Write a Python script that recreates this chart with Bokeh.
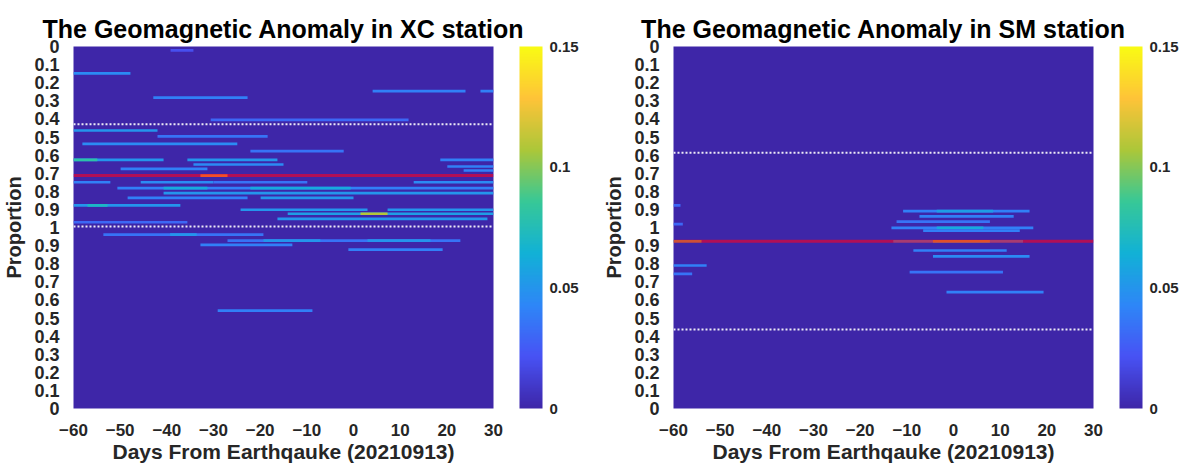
from bokeh.plotting import figure
from bokeh.models import (Range1d, FixedTicker, CustomJSTickFormatter, LinearColorMapper,
                          ColorBar, Span, ColumnDataSource, Title)
from bokeh.layouts import row
from bokeh.embed import file_html
from bokeh.resources import INLINE

# ---------------- data ----------------
day_ticks = [-60, -50, -40, -30, -20, -10, 0, 10, 20, 30]
# axis position (0 = top, 1 = middle, 2 = bottom); labels run 0..1..0
prop_ticks = [i / 10 for i in range(21)]
cbar_ticks = [0, 0.05, 0.1, 0.15]

xc_row = [0.022, 0.148, 0.247, 0.247, 0.283, 0.405, 0.464, 0.496, 0.538, 0.578,
          0.626, 0.626, 0.626, 0.626, 0.652, 0.663, 0.676, 0.685, 0.713,
          0.750, 0.750, 0.750, 0.750, 0.783, 0.783, 0.783, 0.810, 0.836, 0.836,
          0.878, 0.878, 0.902, 0.902, 0.924, 0.924, 0.952, 0.971,
          1.039, 1.039, 1.072, 1.072, 1.072, 1.096, 1.122, 1.459]
xc_start = [-39.2, -60, 4.1, 27.2, -42.9, -30.6, -60, -42, -58.1, -22.1,
            -60, -60, -35.6, 18.6, -34.3, 20.1, -49.9, 23.6, -32.8,
            -60, -45.6, -30, 12.9, -50.6, -40.7, -22.1, -40.7, -48.4, -19.9,
            -60, -57, -24.2, 7.3, -14.1, 1.5, -16.3, -60,
            -53.6, -39.3, -27, -19.3, 3, -32.8, -1.1, -29.1]
xc_end = [-34.3, -47.8, 24.0, 30, -22.7, 11.8, -42, -18.4, -24.9, -2.1,
          -40.7, -54.9, -16.3, 30, -15, 30, -31.3, 30, -27,
          -52.1, -30, -9.9, 30, 30, -31.3, -0.6, 30, -22.7, 0,
          -37.1, -52.7, 3, 30, 30, 7.3, 28.7, -35.6,
          -19.3, -33.6, 22.9, -7.1, 16.5, -13.1, 19.1, -8.8]
xc_value = [0.02, 0.045, 0.04, 0.04, 0.04, 0.03, 0.05, 0.035, 0.045, 0.035,
            0.05, 0.08, 0.05, 0.04, 0.045, 0.04, 0.04, 0.04, 0.12,
            0.04, 0.045, 0.035, 0.045, 0.04, 0.06, 0.06, 0.05, 0.04, 0.05,
            0.05, 0.07, 0.05, 0.05, 0.055, 0.11, 0.05, 0.03,
            0.035, 0.05, 0.035, 0.05, 0.05, 0.04, 0.04, 0.04]
xc_bounds = [0.43, 0.995]
xc_ref = 0.713

sm_row = [0.878, 0.910, 0.910, 0.938, 0.967, 0.981, 1.002, 1.002, 1.017,
          1.076, 1.076, 1.076, 1.127, 1.160, 1.210, 1.247, 1.256, 1.357]
sm_start = [-60, -10.8, -3.6, -7.3, -12.2, -60, -13.3, -3.6, -6.5,
            -12.9, -4.4, -60, -8.6, -4.4, -60, -9.4, -60, -1.5]
sm_end = [-58.5, 16.3, 8.5, 12.9, 7.8, -58, 17.1, 6.4, 14.2,
          14.9, 7.8, -54, 11.4, 16.3, -52.9, 10.6, -56, 19.3]
sm_value = [0.03, 0.04, 0.055, 0.04, 0.035, 0.03, 0.04, 0.06, 0.04,
            0.05, 0.11, 0.10, 0.04, 0.045, 0.04, 0.035, 0.035, 0.04]
sm_bounds = [0.587, 1.564]
sm_ref = 1.076

# ---------------- colour map (parula) ----------------
_anchors = [(0.2422, 0.1504, 0.6603), (0.2810, 0.3228, 0.9579), (0.1786, 0.5289, 0.9682),
            (0.0689, 0.6948, 0.8394), (0.2161, 0.7843, 0.5923), (0.6720, 0.7793, 0.2227),
            (0.9970, 0.7659, 0.2199), (0.9769, 0.9839, 0.0805)]


def _parula(n=256):
    out = []
    for i in range(n):
        t = i / (n - 1) * (len(_anchors) - 1)
        k = min(int(t), len(_anchors) - 2)
        f = t - k
        c = [(1 - f) * a + f * b for a, b in zip(_anchors[k], _anchors[k + 1])]
        out.append("#%02x%02x%02x" % tuple(int(round(v * 255)) for v in c))
    return out


PARULA = _parula()
FONT = "Liberation Sans"
HALF = 0.0075
FRAME_W, FRAME_H = 420, 362


def make_panel(title, rows, starts, ends, vals, bounds, ref, width, left_border):
    p = figure(width=width, height=470, output_backend="svg", toolbar_location=None,
               x_range=Range1d(-60, 30), y_range=Range1d(2, 0),
               min_border_left=left_border, min_border_top=46, min_border_bottom=62,
               min_border_right=width - left_border - FRAME_W)
    p.frame_width = FRAME_W
    p.frame_height = FRAME_H
    p.background_fill_color = PARULA[0]
    p.border_fill_color = "white"
    p.outline_line_color = None
    p.grid.visible = False

    mapper = LinearColorMapper(palette=PARULA, low=0, high=0.15)
    src = ColumnDataSource(dict(
        left=starts, right=ends,
        top=[r - HALF for r in rows], bottom=[r + HALF for r in rows], v=vals))
    p.quad(left="left", right="right", top="top", bottom="bottom", source=src,
           fill_color={"field": "v", "transform": mapper}, line_color=None)

    for b in bounds:
        p.add_layout(Span(location=b, dimension="width", line_color="white",
                          line_width=2, line_dash="2 2", line_alpha=0.9))
    p.add_layout(Span(location=ref, dimension="width", line_color="#ff0020",
                      line_width=3, line_alpha=0.6))

    p.title = Title(text=title, text_font=FONT, text_font_size="25px",
                    text_font_style="bold", text_color="black", align="center",
                    standoff=7)

    p.xaxis.ticker = FixedTicker(ticks=day_ticks)
    p.yaxis.ticker = FixedTicker(ticks=prop_ticks)
    p.yaxis.formatter = CustomJSTickFormatter(code="""
        var v = tick <= 1.0001 ? tick : 2 - tick;
        v = Math.round(v * 10) / 10;
        return v.toString();
    """)
    p.xaxis.axis_label = "Days From Earthqauke (20210913)"
    p.yaxis.axis_label = "Proportion"
    for ax in (p.xaxis, p.yaxis):
        ax.axis_line_color = None
        ax.major_tick_line_color = None
        ax.minor_tick_line_color = None
        ax.major_label_text_font = FONT
        ax.major_label_text_font_style = "bold"
        ax.major_label_text_color = "#262626"
        ax.axis_label_text_font = FONT
        ax.axis_label_text_font_style = "bold"
        ax.axis_label_text_color = "#262626"
    p.yaxis.major_label_text_font_size = "18px"
    p.xaxis.major_label_text_font_size = "17px"
    p.xaxis.axis_label_text_font_size = "21px"
    p.yaxis.axis_label_text_font_size = "20px"
    p.yaxis.major_label_standoff = 8
    p.xaxis.major_label_standoff = 9
    p.xaxis.axis_label_standoff = 1
    p.yaxis.axis_label_standoff = 6

    cb = ColorBar(color_mapper=mapper, ticker=FixedTicker(ticks=cbar_ticks),
                  formatter=CustomJSTickFormatter(code="return String(Math.round(tick*100)/100);"),
                  location=(446, 0), width=23, height=FRAME_H, padding=0, margin=0,
                  label_standoff=7,
                  major_tick_line_color=None, minor_tick_line_color=None,
                  bar_line_color=None, background_fill_color=None, border_line_color=None,
                  major_label_text_font=FONT, major_label_text_font_size="15px",
                  major_label_text_font_style="bold", major_label_text_color="#262626")
    p.add_layout(cb, "center")
    return p


p1 = make_panel("The Geomagnetic Anomaly in XC station", xc_row, xc_start, xc_end, xc_value,
                xc_bounds, xc_ref, 600, 73)
p2 = make_panel("The Geomagnetic Anomaly in SM station", sm_row, sm_start, sm_end, sm_value,
                sm_bounds, sm_ref, 595, 72)

layout = row(p1, p2)
open("out.html", "w").write(file_html(layout, INLINE))
